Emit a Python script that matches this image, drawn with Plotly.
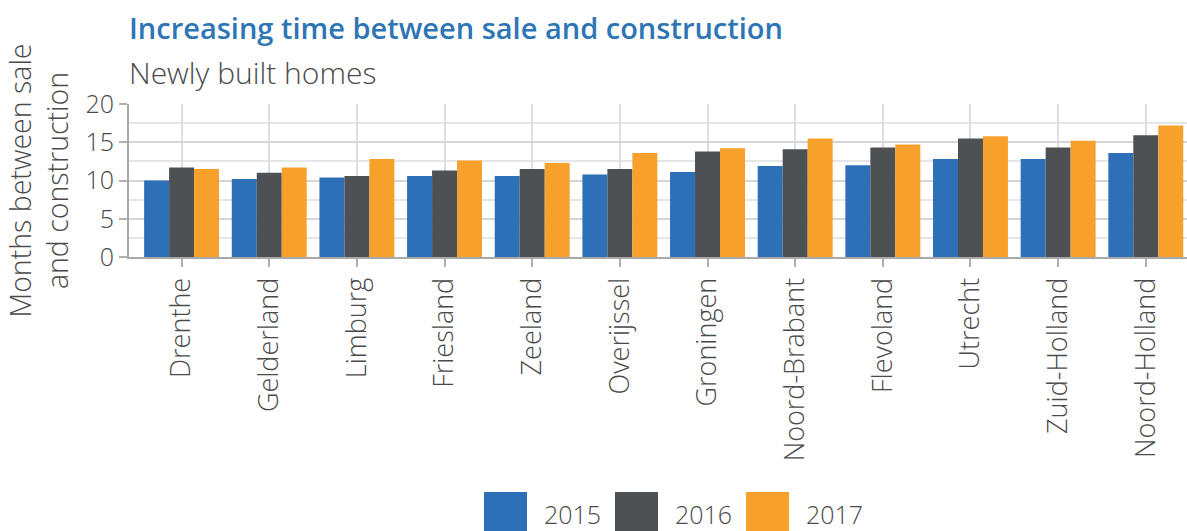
import plotly.graph_objects as go

provinces = ["Drenthe", "Gelderland", "Limburg", "Friesland", "Zeeland", "Overijssel",
             "Groningen", "Noord-Brabant", "Flevoland", "Utrecht", "Zuid-Holland", "Noord-Holland"]
years = ["2015", "2016", "2017"]
v2015 = [10.0, 10.2, 10.4, 10.6, 10.6, 10.8, 11.1, 11.9, 12.0, 12.8, 12.8, 13.6]
v2016 = [11.7, 11.0, 10.6, 11.3, 11.5, 11.5, 13.8, 14.1, 14.3, 15.5, 14.3, 15.9]
v2017 = [11.5, 11.7, 12.8, 12.6, 12.3, 13.6, 14.2, 15.5, 14.7, 15.8, 15.2, 17.2]
series = [v2015, v2016, v2017]
colors = ["#2D70B8", "#4D5153", "#F7A02C"]

FONT = "Open Sans"
TXT = "#4a4a4a"

fig = go.Figure()
for yr, vals, col in zip(years, series, colors):
    fig.add_trace(go.Bar(x=provinces, y=vals, name=yr, marker_color=col,
                         marker_line_width=0, showlegend=False))

W, H = 1187, 531
L, R, T, B = 129, 0, 104, 274
pw = W - L - R
ph = H - T - B

def px_x(p):
    return (p - L) / pw

def px_y(p):
    return (H - B - p) / ph

shapes = []
annotations = []
# manual legend (large square swatches)
box_w, box_h, step, start = 43, 39, 131, 484
for i, (yr, col) in enumerate(zip(years, colors)):
    x0 = start + i * step
    shapes.append(dict(type="rect", xref="paper", yref="paper",
                       x0=px_x(x0), x1=px_x(x0 + box_w),
                       y0=px_y(492 + box_h), y1=px_y(492),
                       fillcolor=col, line_width=0))
    annotations.append(dict(xref="paper", yref="paper", x=px_x(x0 + box_w + 15),
                            y=px_y(514), xanchor="left", yanchor="middle",
                            text=yr, showarrow=False,
                            font=dict(family=FONT, size=25, color=TXT, weight=300)))

# title and subtitle
annotations.append(dict(xref="paper", yref="paper", x=px_x(127), y=px_y(27),
                        xanchor="left", yanchor="middle", showarrow=False,
                        text="Increasing time between sale and construction",
                        font=dict(family=FONT, size=29, color="#2E75B6", weight=600)))
annotations.append(dict(xref="paper", yref="paper", x=px_x(127), y=px_y(72),
                        xanchor="left", yanchor="middle", showarrow=False,
                        text="Newly built homes",
                        font=dict(family=FONT, size=30, color=TXT, weight=300)))

fig.update_layout(
    width=W, height=H, autosize=False,
    margin=dict(l=L, r=R, t=T, b=B, pad=0),
    plot_bgcolor="white", paper_bgcolor="white",
    barmode="group", bargap=0.145, bargroupgap=0,
    font=dict(family=FONT, color=TXT),
    shapes=shapes, annotations=annotations,
    hovermode=False,
)
fig.update_xaxes(
    range=[-0.6, 11.47], tickangle=-90,
    tickfont=dict(family=FONT, size=27, color=TXT, weight=300),
    showline=True, linecolor="#a9a9a9", linewidth=2,
    ticks="outside", ticklen=8, tickcolor="#b0b0b0", tickwidth=2,
    showgrid=True, gridcolor="#dedede", gridwidth=2,
)
fig.update_yaxes(
    range=[0, 20], dtick=5, tick0=0,
    tickfont=dict(family=FONT, size=25, color=TXT, weight=300),
    showline=True, linecolor="#a9a9a9", linewidth=2,
    ticks="outside", ticklen=8, tickcolor="#b0b0b0", tickwidth=2,
    showgrid=True, gridcolor="#d6d6d6", gridwidth=2,
    minor=dict(dtick=2.5, showgrid=True, gridcolor="#e6e6e6", gridwidth=2, ticks=""),
    zeroline=False,
    title=dict(text="Months between sale<br>and construction", standoff=8,
               font=dict(family=FONT, size=28.5, color=TXT, weight=300)),
)

fig.write_html("out.html", config={"displayModeBar": False},
               post_script="document.body.style.margin='0';document.body.style.overflow='hidden';")
